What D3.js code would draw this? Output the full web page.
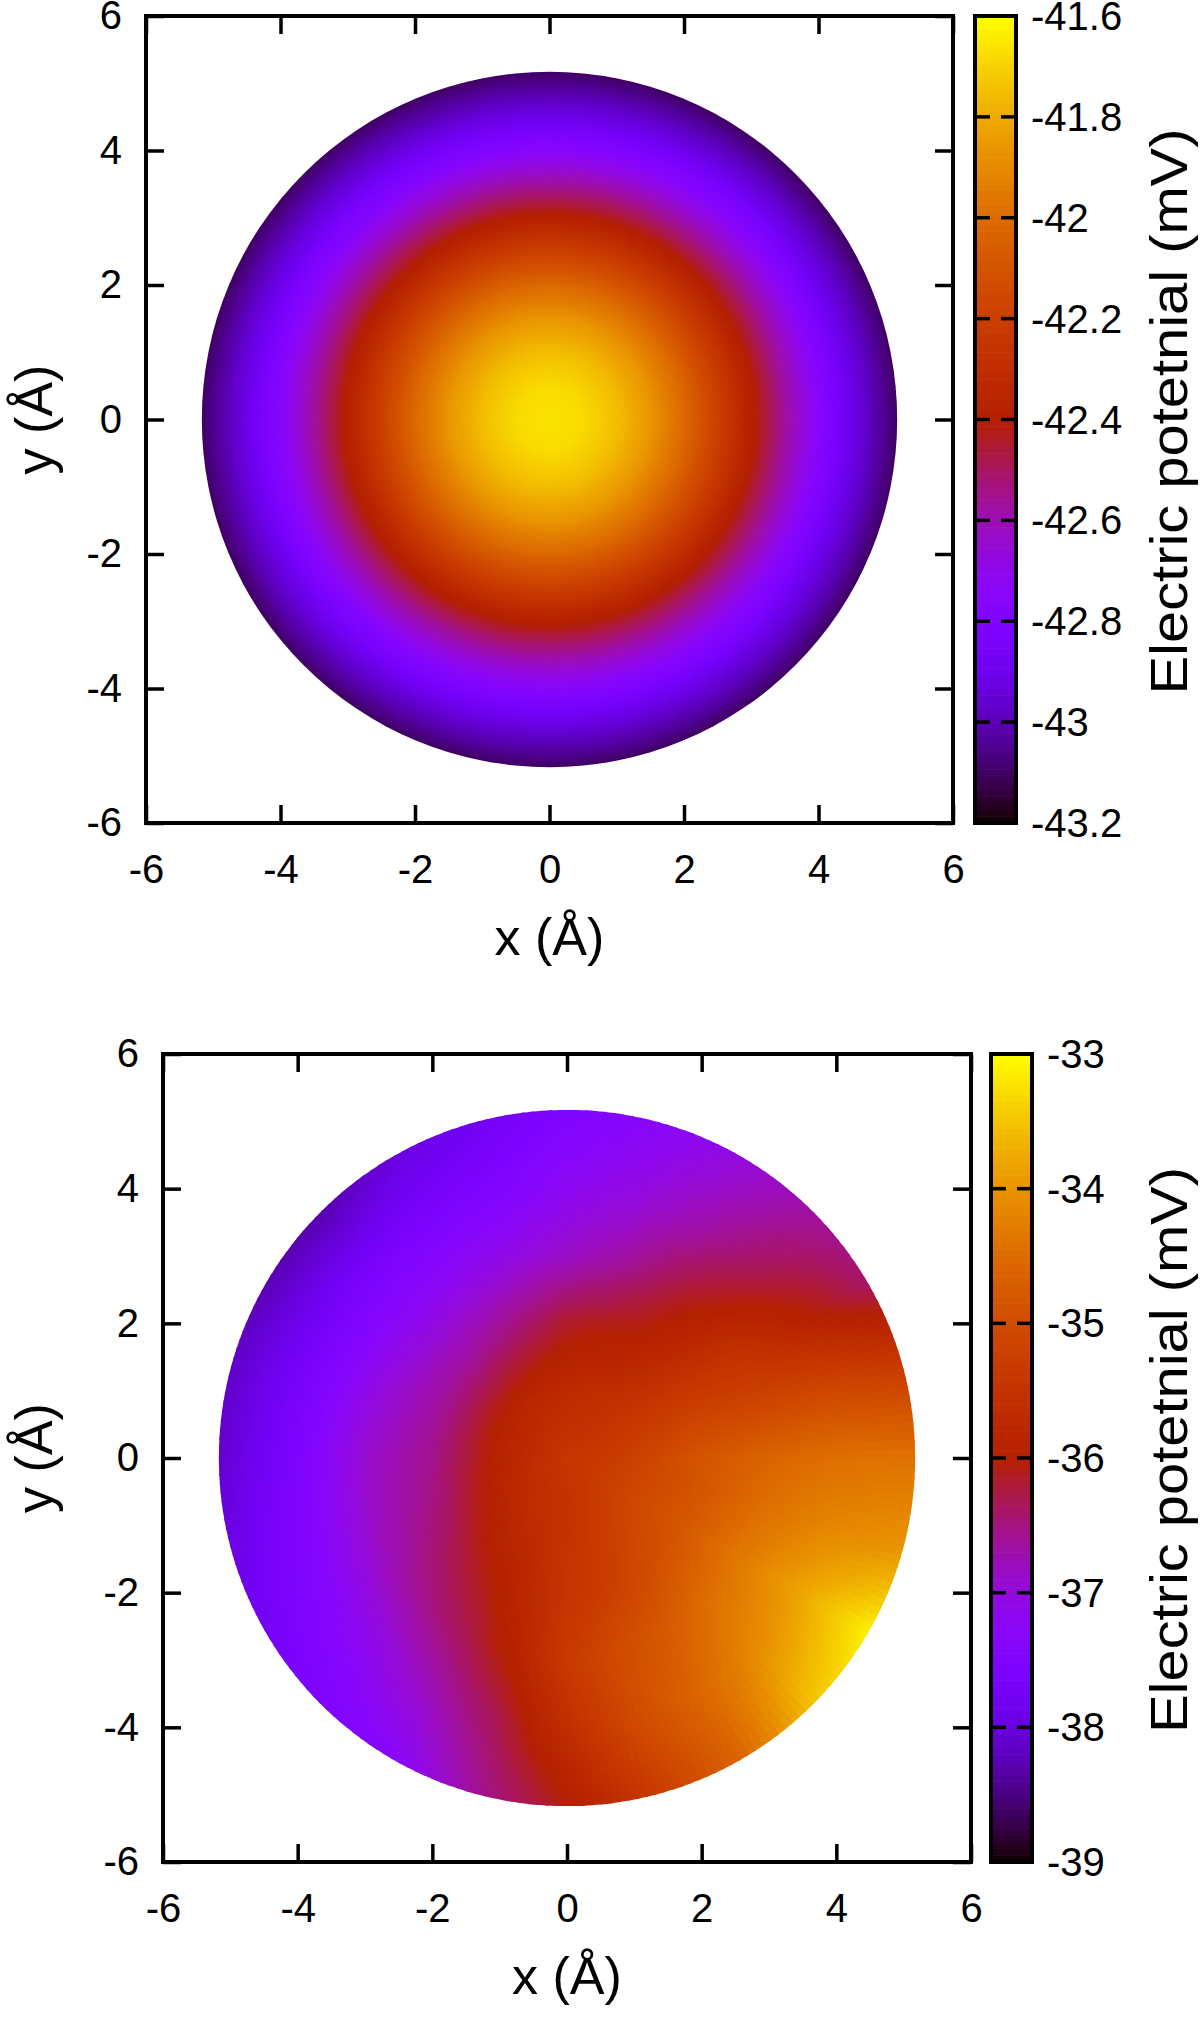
<!DOCTYPE html>
<html>
<head>
<meta charset="utf-8">
<script src="https://cdn.jsdelivr.net/npm/d3@7"></script>
<style>
body { margin: 0; background: #fff; }
svg { display: block; font-family: "Liberation Sans", Arial, sans-serif; }
</style>
</head>
<body>
<svg width="1200" height="2017"></svg>
<script>
// x and y ticks, same on both panels (Angstrom)
var axisTicks = [-6, -4, -2, 0, 2, 4, 6];
var axisLabels = ["-6", "-4", "-2", "0", "2", "4", "6"];

// panel 1: potential is round, so one radial profile (r in A, mV)
var topRadii  = [0, 0.5, 1, 1.5, 2, 2.5, 3, 3.5, 4, 4.5, 5, 5.17];
var topValues = [-41.66, -41.68, -41.75, -41.86, -42.01, -42.19, -42.38, -42.57, -42.75, -42.91, -43.05, -43.10];
var topCbTicks  = [-41.6, -41.8, -42, -42.2, -42.4, -42.6, -42.8, -43, -43.2];
var topCbLabels = ["-41.6", "-41.8", "-42", "-42.2", "-42.4", "-42.6", "-42.8", "-43", "-43.2"];

// panel 2: potential read on a polar grid
// angles in degrees, counter-clockwise from +x
var botAngles = [0, 15, 30, 45, 60, 75, 90, 105, 120, 135, 150, 165,
                 180, 195, 210, 225, 240, 255, 270, 285, 300, 315, 330, 345];
var botRadii  = [0, 1, 2, 3, 4, 5.17];
var botCenter = -35.5;
var botR1 = [-35.2, -35.3, -35.4, -35.5, -35.6, -35.65, -35.7, -35.75, -35.8, -35.85, -35.9, -35.9,
             -35.9, -35.85, -35.8, -35.75, -35.65, -35.6, -35.5, -35.4, -35.3, -35.2, -35.15, -35.15];
var botR2 = [-34.85, -35.1, -35.4, -35.7, -35.95, -36.05, -36.15, -36.35, -36.5, -36.6, -36.6, -36.6,
             -36.55, -36.5, -36.35, -36.15, -35.95, -35.7, -35.45, -35.3, -35.1, -34.9, -34.8, -34.85];
var botR3 = [-34.6, -35.1, -35.5, -35.95, -36.3, -36.65, -36.85, -37.0, -37.1, -37.15, -37.1, -37.0,
             -36.9, -36.85, -36.75, -36.55, -36.3, -35.9, -35.35, -35.0, -34.75, -34.45, -34.3, -34.45];
var botR4 = [-34.45, -35.1, -35.9, -36.35, -36.7, -37.0, -37.2, -37.45, -37.55, -37.6, -37.65, -37.6,
             -37.55, -37.45, -37.3, -37.1, -36.75, -36.3, -35.6, -35.0, -34.55, -34.1, -33.8, -34.15];
var botR5 = [-34.4, -35.3, -36.4, -36.65, -37.0, -37.3, -37.5, -37.8, -38.0, -38.3, -38.25, -38.15,
             -38.1, -37.95, -37.75, -37.55, -37.3, -36.6, -36.05, -35.3, -34.6, -33.5, -33.1, -34.0];
var botCbTicks  = [-33, -34, -35, -36, -37, -38, -39];
var botCbLabels = ["-33", "-34", "-35", "-36", "-37", "-38", "-39"];

var xTitle = "x (Å)";
var yTitle = "y (Å)";
var cbTitle = "Electric potetnial (mV)";

var svg = d3.select('svg');
var defs = svg.append('defs');

// gnuplot default palette (rgbformulae 7,5,15)
function gnuplotPalette(t) {
    t = Math.max(0, Math.min(1, t));
    var r = Math.sqrt(t);
    var g = t * t * t;
    var b = Math.max(0, Math.sin(2 * Math.PI * t));
    return d3.rgb(255 * r, 255 * g, 255 * b).toString();
}

function drawPanel(p) {
    var g = svg.append('g');

    var x = d3.scaleLinear().domain([-6, 6]).range([p.left, p.left + p.size]);
    var y = d3.scaleLinear().domain([-6, 6]).range([p.top + p.size, p.top]);
    var color = d3.scaleSequential(gnuplotPalette).domain([d3.min(p.cbTicks), d3.max(p.cbTicks)]);

    // the field itself
    var field = g.append('g').attr('transform', 'translate(' + [x(0), y(0)] + ')');
    p.drawField(field, function(r) { return x(r) - x(0); }, color);

    // mirrored inward ticks on all four sides
    var tick = 18;
    var axes = [
        {axis: d3.axisBottom(x), t: [0, p.top + p.size], lab: true},
        {axis: d3.axisTop(x),    t: [0, p.top],          lab: false},
        {axis: d3.axisLeft(y),   t: [p.left, 0],          lab: true},
        {axis: d3.axisRight(y),  t: [p.left + p.size, 0], lab: false}
    ];
    axes.forEach(function(a, i) {
        a.axis.tickValues(axisTicks).tickSize(-tick)
            .tickPadding(i === 0 ? 32 : 24)
            .tickFormat(function(d, k) { return a.lab ? axisLabels[k] : ''; });
        var ag = g.append('g').attr('transform', 'translate(' + a.t + ')').call(a.axis);
        ag.select('.domain').remove();
        ag.selectAll('line').attr('stroke', '#000').attr('stroke-width', 3.5);
        ag.selectAll('text').attr('fill', '#000').style('font-size', '40px')
            .style('font-family', '"Liberation Sans", Arial, sans-serif');
    });

    g.append('rect')
        .attr('x', p.left).attr('y', p.top)
        .attr('width', p.size).attr('height', p.size)
        .attr('fill', 'none').attr('stroke', '#000').attr('stroke-width', 4);

    // colour box
    var cb = d3.scaleLinear().domain(color.domain()).range([p.top + p.size, p.top]);
    var nBands = 120;
    var lo = color.domain()[0], hi = color.domain()[1];
    var bands = d3.range(nBands).map(function(i) {
        return {v0: lo + (hi - lo) * i / nBands, v1: lo + (hi - lo) * (i + 1) / nBands};
    });
    g.selectAll('rect.band').data(bands).join('rect')
        .attr('class', 'band')
        .attr('x', p.cbLeft).attr('width', p.cbWidth)
        .attr('y', function(d) { return cb(d.v1); })
        .attr('height', function(d) { return cb(d.v0) - cb(d.v1) + 0.6; })
        .attr('fill', function(d) { return color((d.v0 + d.v1) / 2); });

    var cbTick = 15;
    g.selectAll('line.cbl').data(p.cbTicks).join('line')
        .attr('x1', p.cbLeft).attr('x2', p.cbLeft + cbTick)
        .attr('y1', cb).attr('y2', cb)
        .attr('stroke', '#000').attr('stroke-width', 3.5);
    g.selectAll('line.cbr').data(p.cbTicks).join('line')
        .attr('x1', p.cbLeft + p.cbWidth - cbTick).attr('x2', p.cbLeft + p.cbWidth)
        .attr('y1', cb).attr('y2', cb)
        .attr('stroke', '#000').attr('stroke-width', 3.5);
    g.append('rect')
        .attr('x', p.cbLeft).attr('y', p.top)
        .attr('width', p.cbWidth).attr('height', p.size)
        .attr('fill', 'none').attr('stroke', '#000').attr('stroke-width', 4);

    g.selectAll('text.cbt').data(p.cbTicks).join('text')
        .attr('x', p.cbLeft + p.cbWidth + 15)
        .attr('y', cb).attr('dy', '0.35em')
        .style('font-size', '40px')
        .text(function(d, i) { return p.cbLabels[i]; });

    // titles
    g.append('text')
        .attr('x', (p.left + p.left + p.size) / 2)
        .attr('y', p.top + p.size + 132)
        .attr('text-anchor', 'middle')
        .style('font-size', '52px')
        .text(xTitle);
    g.append('text')
        .attr('transform', 'translate(52,' + y(0) + ') rotate(-90)')
        .attr('text-anchor', 'middle')
        .style('font-size', '52px')
        .text(yTitle);
    g.append('text')
        .attr('transform', 'translate(1187,' + (y(0) - 8) + ') rotate(-90)')
        .attr('text-anchor', 'middle')
        .attr('textLength', 566)
        .attr('lengthAdjust', 'spacingAndGlyphs')
        .style('font-size', '52px')
        .text(cbTitle);
}

// panel 1: filled discs from the rim inwards
function drawTopField(g, px, color) {
    var profile = d3.scaleLinear().domain(topRadii).range(topValues);
    var rMax = d3.max(topRadii);
    var step = 0.02;
    var rings = d3.range(rMax, 0, -step);
    g.selectAll('circle').data(rings).join('circle')
        .attr('r', px)
        .attr('fill', function(r) { return color(profile(Math.max(0, r - step / 2))); });
}

// panel 2: thin wedges from the centre, each with a gradient along its radius
function drawBottomField(g, px, color) {
    var rows = [botR1, botR2, botR3, botR4, botR5];
    var radial = botAngles.map(function(a, j) {
        return d3.scaleLinear().domain(botRadii)
            .range([botCenter].concat(rows.map(function(row) { return row[j]; })));
    });
    var da = botAngles[1] - botAngles[0];
    function value(r, theta) {
        theta = ((theta % 360) + 360) % 360;
        var j = d3.bisectRight(botAngles, theta) - 1;
        var j2 = (j + 1) % botAngles.length;
        var a0 = botAngles[j];
        return d3.scaleLinear().domain([a0, a0 + da]).range([radial[j](r), radial[j2](r)])(theta);
    }
    var rMax = d3.max(botRadii);
    var R = px(rMax);
    var dTheta = 1.5;
    var wedges = d3.range(0, 360, dTheta).map(function(a0, i) {
        // d3.arc angles run clockwise from 12 o'clock
        var theta = 90 - (a0 + dTheta / 2);
        var t = theta * Math.PI / 180;
        return {id: 'wedge' + i, a0: a0, a1: a0 + dTheta, theta: theta,
                dx: Math.cos(t), dy: -Math.sin(t)};
    });
    var rStops = d3.range(0, 1.0001, 0.02);

    var grads = defs.selectAll('linearGradient.w').data(wedges).join('linearGradient')
        .attr('class', 'w')
        .attr('id', function(d) { return d.id; })
        .attr('gradientUnits', 'userSpaceOnUse')
        .attr('x1', 0).attr('y1', 0)
        .attr('x2', function(d) { return R * d.dx; })
        .attr('y2', function(d) { return R * d.dy; });
    grads.selectAll('stop').data(function(d) {
        return rStops.map(function(f) { return {f: f, theta: d.theta}; });
    }).join('stop')
        .attr('offset', function(s) { return s.f; })
        .attr('stop-color', function(s) { return color(value(s.f * rMax, s.theta)); });

    // backing disc near the centre so the wedge seams do not show white
    g.append('circle')
        .attr('r', px(1.5))
        .attr('fill', color(radial[0](0.6)));

    var arc = d3.arc();
    var pad = 0.5 * Math.PI / 180;
    g.selectAll('path').data(wedges).join('path')
        .attr('d', function(d) {
            return arc({innerRadius: 0, outerRadius: R,
                        startAngle: d.a0 * Math.PI / 180,
                        endAngle: d.a1 * Math.PI / 180 + pad});
        })
        .attr('fill', function(d) { return 'url(#' + d.id + ')'; });
}

drawPanel({
    left: 146, top: 16, size: 807,
    cbLeft: 975, cbWidth: 41,
    cbTicks: topCbTicks, cbLabels: topCbLabels,
    drawField: drawTopField
});

drawPanel({
    left: 163, top: 1054, size: 808,
    cbLeft: 991, cbWidth: 41,
    cbTicks: botCbTicks, cbLabels: botCbLabels,
    drawField: drawBottomField
});
</script>
</body>
</html>
